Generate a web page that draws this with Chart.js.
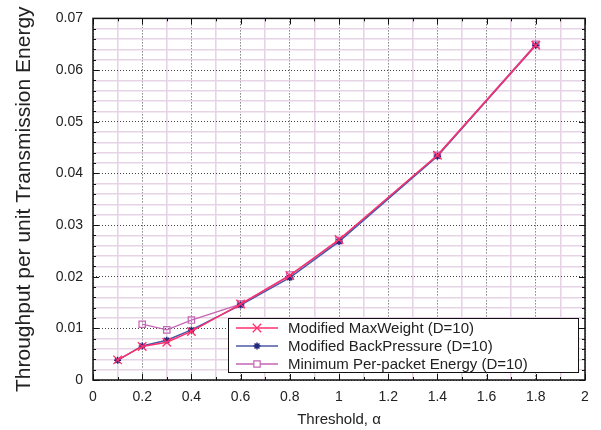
<!DOCTYPE html>
<html>
<head>
<meta charset="utf-8">
<script src="https://cdn.jsdelivr.net/npm/chart.js@4/dist/chart.umd.min.js"></script>
<style>
  html, body { margin: 0; padding: 0; background: #fff; }
</style>
</head>
<body>
<canvas id="chart" width="601" height="430"></canvas>
<script>
// data
const thresholds   = [0.1, 0.2, 0.3, 0.4, 0.6, 0.8, 1.0, 1.4, 1.8];
const maxWeight    = [0.0039, 0.0065, 0.0073, 0.0094, 0.0147, 0.0202, 0.0272, 0.0435, 0.0648];
const backPressure = [0.0038, 0.0066, 0.0077, 0.0097, 0.0145, 0.0198, 0.0268, 0.0433, 0.0648];
const minEnergy    = [null, 0.0108, 0.0097, 0.0116, 0.0147, 0.0203, 0.0270, 0.0435, 0.0650];
const seriesNames  = ['Modified MaxWeight (D=10)', 'Modified BackPressure (D=10)', 'Minimum Per-packet Energy (D=10)'];

const FONT = 'Liberation Sans, Arial, Helvetica, sans-serif';
const TEXT = '#222';
const MINOR = '#e6d3e6';
const MAJOR = '#444';

function toPoints(values) {
    return thresholds.map((x, i) => ({ x: x, y: values[i] })).filter(p => p.y !== null);
}

// major ticks: every 0.2 on x, every 0.01 on y
const isMajorX = v => Math.abs(v * 5 - Math.round(v * 5)) < 1e-6;
const isMajorY = v => Math.abs(v * 100 - Math.round(v * 100)) < 1e-6;

// frame + inward tick marks, like the gnuplot box
const framePlugin = {
    id: 'frame',
    afterDraw(chart) {
        const { ctx, chartArea: a, scales } = chart;
        ctx.save();
        ctx.strokeStyle = '#111';
        ctx.lineWidth = 1;
        scales.x.ticks.forEach(t => {
            const px = Math.round(scales.x.getPixelForValue(t.value)) + 0.5;
            const len = isMajorX(t.value) ? 6 : 3;
            ctx.beginPath();
            ctx.moveTo(px, a.bottom); ctx.lineTo(px, a.bottom - len);
            ctx.moveTo(px, a.top); ctx.lineTo(px, a.top + len);
            ctx.stroke();
        });
        scales.y.ticks.forEach(t => {
            const py = Math.round(scales.y.getPixelForValue(t.value)) + 0.5;
            const len = isMajorY(t.value) ? 6 : 3;
            ctx.beginPath();
            ctx.moveTo(a.left, py); ctx.lineTo(a.left + len, py);
            ctx.moveTo(a.right, py); ctx.lineTo(a.right - len, py);
            ctx.stroke();
        });
        ctx.lineWidth = 1.5;
        ctx.strokeRect(a.left, a.top, a.right - a.left, a.bottom - a.top);
        ctx.restore();
    }
};

// boxed legend in the lower right corner of the plot
const legendPlugin = {
    id: 'boxLegend',
    afterDatasetsDraw(chart) {
        const { ctx, chartArea: a } = chart;
        const w = 350, h = 54;
        const x0 = a.right - 7 - w, y0 = a.bottom - 8 - h;
        ctx.save();
        ctx.fillStyle = '#fff';
        ctx.fillRect(x0, y0, w, h);
        ctx.strokeStyle = '#111';
        ctx.lineWidth = 1;
        ctx.strokeRect(x0 + 0.5, y0 + 0.5, w, h);
        ctx.font = '15px ' + FONT;
        ctx.textBaseline = 'middle';
        chart.data.datasets.forEach((ds, i) => {
            const y = y0 + 10 + i * 18;
            ctx.strokeStyle = ds.borderColor;
            ctx.lineWidth = 1.5;
            ctx.beginPath();
            ctx.moveTo(x0 + 8, y); ctx.lineTo(x0 + 50, y);
            ctx.stroke();
            ctx.strokeStyle = ds.pointBorderColor;
            ctx.fillStyle = '#fff';
            ctx.lineWidth = ds.pointBorderWidth;
            Chart.helpers.drawPoint(ctx, {
                pointStyle: ds.pointStyle,
                radius: ds.pointRadius,
                borderWidth: ds.pointBorderWidth,
                rotation: 0
            }, x0 + 29, y);
            ctx.fillStyle = TEXT;
            ctx.fillText(ds.label, x0 + 60, y + 1);
        });
        ctx.restore();
    }
};

const datasets = [
    {
        label: seriesNames[0],
        data: toPoints(maxWeight),
        borderColor: '#ff2f6c',
        backgroundColor: 'rgba(0,0,0,0)',
        pointBorderColor: '#ff2f6c',
        pointStyle: 'crossRot',
        pointRadius: 6,
        pointBorderWidth: 1.3,
        borderWidth: 1.5,
    },
    {
        label: seriesNames[1],
        data: toPoints(backPressure),
        borderColor: '#4b58a6',
        backgroundColor: 'rgba(0,0,0,0)',
        pointBorderColor: '#23287f',
        pointStyle: 'star',
        pointRadius: 3.5,
        pointBorderWidth: 1.5,
        borderWidth: 1.5,
    },
    {
        label: seriesNames[2],
        data: toPoints(minEnergy),
        borderColor: '#c565b6',
        backgroundColor: 'rgba(0,0,0,0)',
        pointBorderColor: '#c565b6',
        pointStyle: 'rect',
        pointRadius: 4.5,
        pointBorderWidth: 1.2,
        borderWidth: 1.3,
    }
];

new Chart(document.getElementById('chart').getContext('2d'), {
    type: 'line',
    data: { datasets: datasets },
    options: {
        responsive: false,
        animation: false,
        layout: { padding: { top: 12, right: 16, left: 0, bottom: 0 } },
        plugins: {
            legend: { display: false },
            tooltip: { enabled: false }
        },
        scales: {
            x: {
                type: 'linear',
                min: 0,
                max: 2,
                afterFit: s => { s.height = 50; },
                ticks: {
                    stepSize: 0.1,
                    autoSkip: false,
                    maxRotation: 0,
                    padding: 9,
                    color: TEXT,
                    font: { family: FONT, size: 14 },
                    callback: v => isMajorX(v) ? String(Math.round(v * 10) / 10) : ''
                },
                grid: {
                    drawTicks: false,
                    color: c => isMajorX(c.tick.value) ? MAJOR : MINOR,
                    lineWidth: c => isMajorX(c.tick.value) ? 1 : 1.6
                },
                border: {
                    display: false,
                    dash: c => (c.tick && isMajorX(c.tick.value)) ? [1, 2] : []
                },
                title: {
                    display: true,
                    text: 'Threshold, \u03b1',
                    color: TEXT,
                    font: { family: FONT, size: 15 },
                    padding: { top: 0, bottom: 1 }
                }
            },
            y: {
                type: 'linear',
                min: 0,
                max: 0.07,
                afterFit: s => { s.width = 93; },
                ticks: {
                    stepSize: 0.002,
                    autoSkip: false,
                    padding: 10,
                    color: TEXT,
                    font: { family: FONT, size: 14 },
                    callback: v => isMajorY(v) ? String(Math.round(v * 100) / 100) : ''
                },
                grid: {
                    drawTicks: false,
                    color: c => isMajorY(c.tick.value) ? MAJOR : MINOR,
                    lineWidth: c => isMajorY(c.tick.value) ? 1 : 1.6
                },
                border: {
                    display: false,
                    dash: c => (c.tick && isMajorY(c.tick.value)) ? [1, 2] : []
                },
                title: {
                    display: true,
                    text: 'Throughput per unit Transmission Energy',
                    color: TEXT,
                    font: { family: FONT, size: 21 },
                    padding: { top: 12, bottom: 0 }
                }
            }
        }
    },
    plugins: [framePlugin, legendPlugin]
});
</script>
</body>
</html>
